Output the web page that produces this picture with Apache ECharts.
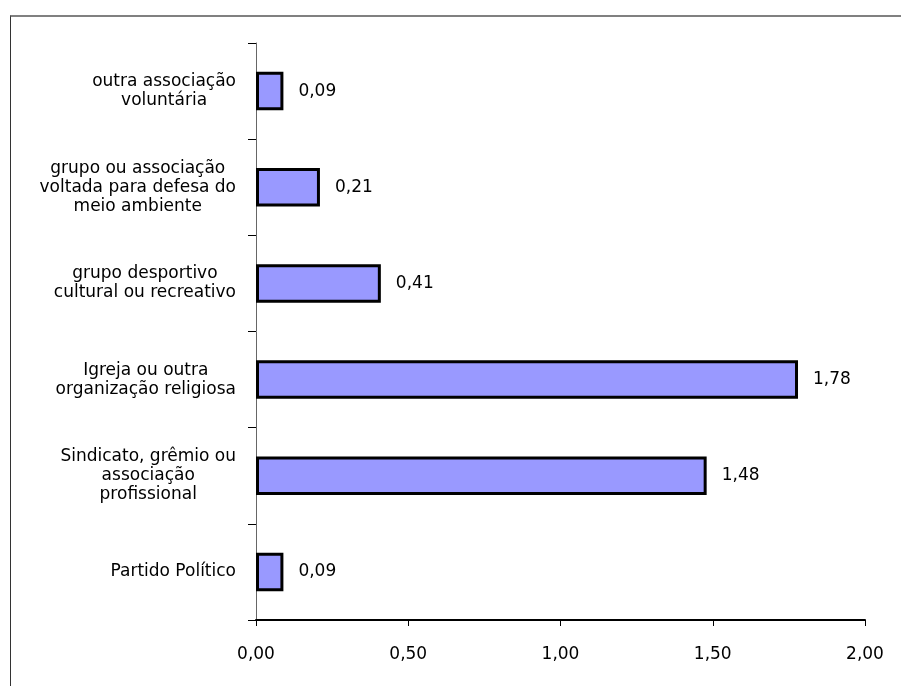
<!DOCTYPE html>
<html>
<head>
<meta charset="utf-8">
<script src="https://cdn.jsdelivr.net/npm/echarts@6/dist/echarts.min.js"></script>
<style>
  html, body { margin: 0; padding: 0; background: #fff; }
  #frame { position: absolute; left: 10px; top: 15px; width: 900px; height: 700px;
           border-left: 1px solid #333; border-top: 2px solid #808080; box-sizing: border-box; }
  #chart { position: absolute; left: 0; top: 0; width: 901px; height: 686px; }
</style>
</head>
<body>
<div id="frame"></div>
<div id="chart"></div>
<script>
// Categories from top to bottom
const categories = [
  "outra associação\nvoluntária",
  "grupo ou associação\nvoltada para defesa do\nmeio ambiente",
  "grupo desportivo\ncultural ou recreativo",
  "Igreja ou outra\norganização religiosa",
  "Sindicato, grêmio ou\nassociação\nprofissional",
  "Partido Político"
];
const values = [0.09, 0.21, 0.41, 1.78, 1.48, 0.09];
const xTicks = [0, 0.5, 1.0, 1.5, 2.0];

const fmt = v => Number(v).toFixed(2).replace('.', ',');
const font = "'DejaVu Sans', 'Liberation Sans', Arial, sans-serif";
const fs = 17;

const chart = echarts.init(document.getElementById('chart'));
chart.setOption({
  animation: false,
  backgroundColor: 'transparent',
  grid: { left: 256, right: 36, top: 43, bottom: 66, containLabel: false },
  xAxis: {
    type: 'value',
    min: xTicks[0],
    max: xTicks[xTicks.length - 1],
    interval: xTicks[1] - xTicks[0],
    axisLine: { show: true, lineStyle: { color: '#000', width: 2 } },
    axisTick: { show: true, length: 6, lineStyle: { color: '#000', width: 1 } },
    splitLine: { show: false },
    axisLabel: { formatter: fmt, color: '#000', fontSize: fs, fontFamily: font, margin: 26 }
  },
  yAxis: {
    type: 'category',
    data: categories,
    inverse: true,
    axisLine: { show: true, lineStyle: { color: '#666', width: 1 } },
    axisTick: { show: true, length: 8, lineStyle: { color: '#000', width: 1 } },
    axisLabel: {
      margin: 20,
      color: '#000',
      fontSize: fs,
      fontFamily: font,
      lineHeight: 19,
      formatter: v => v.split('\n').map(l => '{c|' + l + '}').join('\n'),
      rich: { c: { align: 'center', fontSize: fs, lineHeight: 19, fontFamily: font, color: '#000' } }
    }
  },
  series: [{
    type: 'bar',
    data: values,
    barCategoryGap: '60%',
    itemStyle: { color: '#9999FF', borderColor: '#000', borderWidth: 3 },
    label: {
      show: true,
      position: 'right',
      distance: 15,
      formatter: p => fmt(p.value),
      color: '#000',
      fontSize: fs,
      fontFamily: font
    }
  }]
});
</script>
</body>
</html>
